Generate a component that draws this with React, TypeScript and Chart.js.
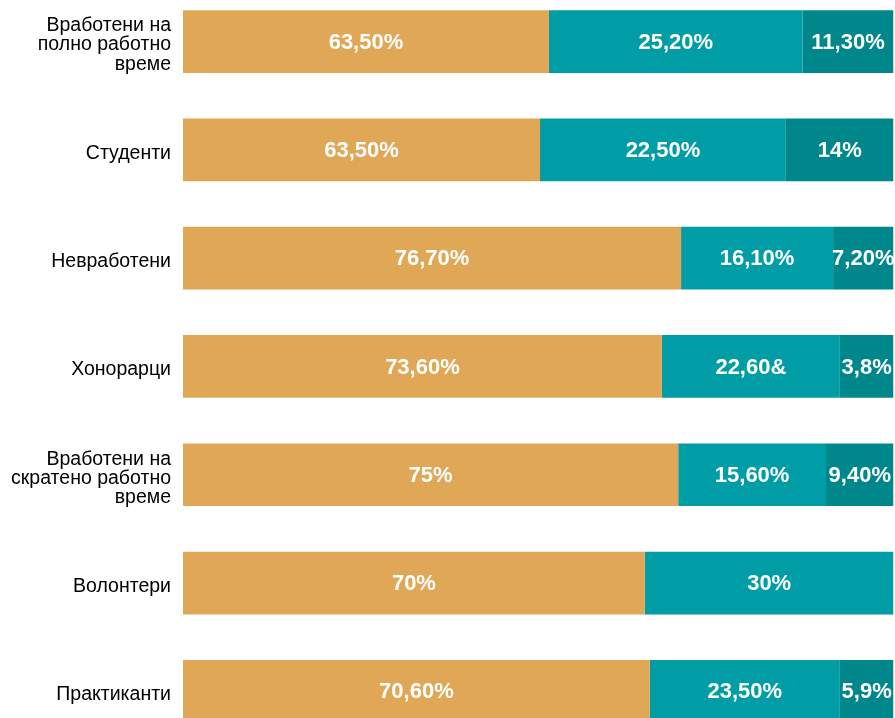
import React, { useEffect, useRef } from "react";
import { Chart, registerables } from "chart.js";

Chart.register(...registerables);

const categories: (string | string[])[] = [
  ["Вработени на", "полно работно", "време"],
  "Студенти",
  "Невработени",
  "Хонорарци",
  ["Вработени на", "скратено работно", "време"],
  "Волонтери",
  "Практиканти",
];

// segment lengths as drawn in the picture (share of the full bar)
const seriesA = [51.5, 50.25, 70.1, 67.4, 69.7, 65.0, 65.7];
const seriesB = [35.7, 34.6, 21.4, 25.05, 20.8, 35.0, 26.75];
const seriesC: (number | null)[] = [12.8, 15.15, 8.5, 7.55, 9.5, null, 7.55];

// printed labels
const labelsA = ["63,50%", "63,50%", "76,70%", "73,60%", "75%", "70%", "70,60%"];
const labelsB = ["25,20%", "22,50%", "16,10%", "22,60&", "15,60%", "30%", "23,50%"];
const labelsC = ["11,30%", "14%", "7,20%", "3,8%", "9,40%", "", "5,9%"];

const colorA = "#E0A856";
const colorB = "#009DA6";
const colorC = "#00878C";

const valueLabelPlugin = {
  id: "valueLabels",
  afterDatasetsDraw(chart: any) {
    const ctx = chart.ctx;
    const all = [labelsA, labelsB, labelsC];
    ctx.save();
    ctx.font = "bold 22px 'Liberation Sans', Arial, sans-serif";
    ctx.fillStyle = "#ffffff";
    ctx.textAlign = "center";
    ctx.textBaseline = "middle";
    chart.data.datasets.forEach((_ds: any, di: number) => {
      const meta = chart.getDatasetMeta(di);
      meta.data.forEach((el: any, i: number) => {
        const txt = all[di][i];
        if (!txt || el.x == null || isNaN(el.x)) return;
        const cx = (el.x + el.base) / 2;
        ctx.fillText(txt, cx, el.y + 1);
      });
    });
    ctx.restore();
  },
};

export default function App() {
  const ref = useRef<HTMLCanvasElement | null>(null);

  useEffect(() => {
    if (!ref.current) return;
    const chart = new Chart(ref.current, {
      type: "bar",
      data: {
        labels: categories as any,
        datasets: [
          { data: seriesA, backgroundColor: colorA },
          { data: seriesB, backgroundColor: colorB },
          { data: seriesC as any, backgroundColor: colorC },
        ],
      },
      options: {
        indexAxis: "y",
        responsive: true,
        maintainAspectRatio: false,
        animation: false,
        datasets: {
          bar: { categoryPercentage: 1, barPercentage: 0.579 },
        },
        layout: { padding: { top: 7.4, bottom: 14.5, left: 0, right: 1.5 } },
        plugins: {
          legend: { display: false },
          tooltip: { enabled: false },
        },
        scales: {
          x: {
            stacked: true,
            min: 0,
            max: 100,
            display: false,
          },
          y: {
            stacked: true,
            grid: { display: false, drawTicks: false, tickLength: 0 },
            border: { display: false },
            ticks: {
              padding: 12,
              labelOffset: 3.5,
              color: "#000000",
              font: { family: "'Liberation Sans', Arial, sans-serif", size: 19.5, lineHeight: 0.98 },
            },
            afterFit(scale: any) {
              scale.width = 183;
              scale.paddingTop = 0;
              scale.paddingBottom = 0;
              scale.paddingLeft = 0;
              scale.paddingRight = 0;
            },
          },
        },
      },
      plugins: [valueLabelPlugin],
    });
    return () => chart.destroy();
  }, []);

  return (
    <div
      style={{
        position: "fixed",
        left: 0,
        top: 0,
        width: 895,
        height: 718,
        overflow: "hidden",
        background: "#ffffff",
      }}
    >
      <div style={{ position: "absolute", left: 0, top: -20, width: 895, height: 780 }}>
        <canvas ref={ref} />
      </div>
    </div>
  );
}
